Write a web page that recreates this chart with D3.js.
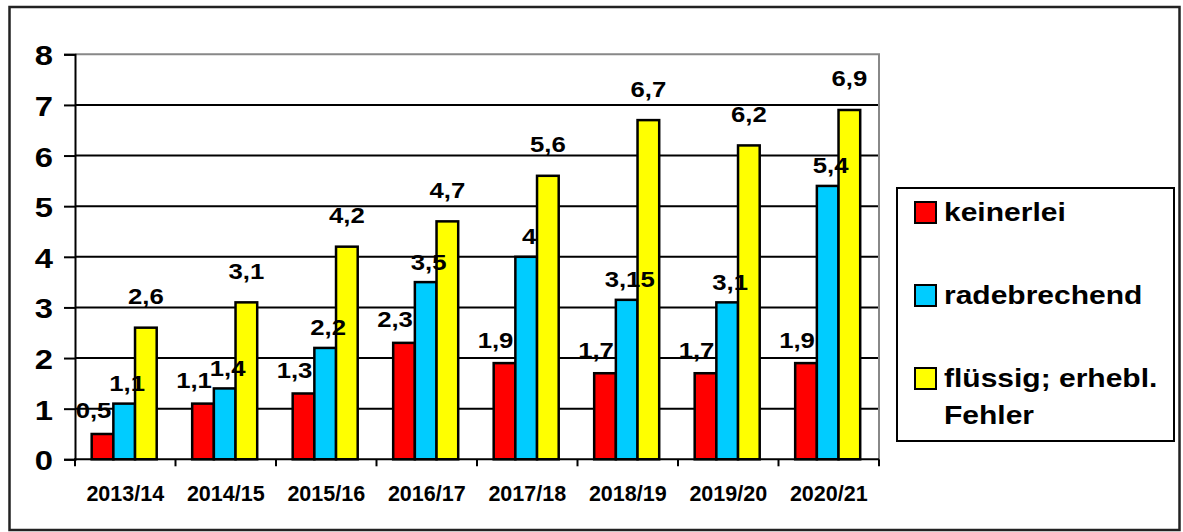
<!DOCTYPE html>
<html>
<head>
<meta charset="utf-8">
<script src="https://cdn.jsdelivr.net/npm/d3@7"></script>
<style>
  body { margin: 0; background: #fff; }
  svg { display: block; }
  text { font-family: "Liberation Sans", Arial, sans-serif; font-weight: bold; fill: #000; }
</style>
</head>
<body>
<div class="vis"></div>
<script>
(function () {
    // data
    var years = ["2013/14", "2014/15", "2015/16", "2016/17", "2017/18", "2018/19", "2019/20", "2020/21"];
    var keinerlei = [0.5, 1.1, 1.3, 2.3, 1.9, 1.7, 1.7, 1.9];
    var radebrechend = [1.1, 1.4, 2.2, 3.5, 4, 3.15, 3.1, 5.4];
    var fluessig = [2.6, 3.1, 4.2, 4.7, 5.6, 6.7, 6.2, 6.9];
    var seriesNames = ["keinerlei", "radebrechend", "flüssig; erhebl. Fehler"];
    var yTicks = [0, 1, 2, 3, 4, 5, 6, 7, 8];

    var colours = ["#ff0000", "#00ccff", "#ffff00"];
    var stretch = 1.17; // the picture's text is a bit wider than it is tall

    const svgWidth = 1183;
    const svgHeight = 532;

    const svg = d3.select('.vis')
        .append("svg")
            .attr('width', svgWidth)
            .attr('height', svgHeight);

    var plot = { left: 75, right: 879, top: 54.3, bottom: 459.3 };

    // outer frame
    svg.append('rect')
        .attr('x', 9.5).attr('y', 7)
        .attr('width', 1170).attr('height', 523)
        .attr('fill', 'none')
        .attr('stroke', '#222')
        .attr('stroke-width', 2.5);

    var data = years.map(function (y, i) {
        return { year: y, values: [keinerlei[i], radebrechend[i], fluessig[i]] };
    });

    var xScale = d3.scaleBand()
        .domain(years)
        .range([plot.left, plot.right])
        .padding(0);

    var bw = xScale.bandwidth();
    var xInner = d3.scaleBand()
        .domain([0, 1, 2])
        .range([bw * 0.166, bw * 0.813]);

    var yScale = d3.scaleLinear()
        .domain([0, 8])
        .range([plot.bottom, plot.top]);

    // grid lines
    svg.append('g')
        .selectAll('line')
        .data(yTicks.filter(function (t) { return t > 0 && t < 8; }))
        .enter().append('line')
            .attr('x1', plot.left).attr('x2', plot.right)
            .attr('y1', function (d) { return yScale(d); })
            .attr('y2', function (d) { return yScale(d); })
            .attr('stroke', '#000')
            .attr('stroke-width', 2);

    // grey top and right border of plot area
    svg.append('path')
        .attr('d', `M${plot.left},${yScale(8)}H${plot.right}V${plot.bottom}`)
        .attr('fill', 'none')
        .attr('stroke', '#888')
        .attr('stroke-width', 2);

    // bars
    var groups = svg.append('g')
        .selectAll('g')
        .data(data)
        .enter().append('g')
            .attr('transform', function (d) { return `translate(${xScale(d.year)},0)`; });

    groups.selectAll('rect')
        .data(function (d) { return d.values; })
        .enter().append('rect')
            .attr('x', function (d, i) { return xInner(i); })
            .attr('y', function (d) { return yScale(d); })
            .attr('width', xInner.bandwidth())
            .attr('height', function (d) { return yScale(0) - yScale(d); })
            .attr('fill', function (d, i) { return colours[i]; })
            .attr('stroke', '#000')
            .attr('stroke-width', 2.5);

    // value labels, nudged per series like in the picture
    var labelDx = [-9, 3, 0];
    var labelDy = [-15.5, -12.5, -23.5];
    groups.selectAll('text')
        .data(function (d) { return d.values; })
        .enter().append('text')
            .attr('text-anchor', 'middle')
            .attr('font-size', 22)
            .attr('transform', function (d, i) {
                var x = xInner(i) + xInner.bandwidth() / 2 + labelDx[i];
                var y = yScale(d) + labelDy[i];
                return `translate(${x},${y}) scale(${stretch},1)`;
            })
            .text(function (d) { return String(d).replace('.', ','); });

    // y axis
    var yAxis = d3.axisLeft(yScale)
        .tickValues(yTicks)
        .tickSize(11)
        .tickFormat(d3.format('d'));

    var callyAxis = svg.append('g')
        .attr('transform', `translate(${plot.left},0)`)
        .call(yAxis);
    callyAxis.select('.domain').attr('stroke', '#000').attr('stroke-width', 2);
    callyAxis.selectAll('.tick line').attr('stroke', '#000').attr('stroke-width', 2);
    callyAxis.selectAll('.tick text')
        .attr('x', null).attr('dy', null)
        .attr('font-size', 28)
        .attr('transform', `translate(-22,10.5) scale(${stretch},1)`);
    callyAxis.attr('font-family', null).attr('font-size', null);

    // x axis with ticks at category boundaries
    var bounds = d3.range(years.length + 1).map(function (i) { return plot.left + i * bw; });
    svg.append('line')
        .attr('x1', plot.left - 1).attr('x2', plot.right)
        .attr('y1', plot.bottom).attr('y2', plot.bottom)
        .attr('stroke', '#000').attr('stroke-width', 2);
    svg.append('g')
        .selectAll('line')
        .data(bounds)
        .enter().append('line')
            .attr('x1', function (d) { return d; })
            .attr('x2', function (d) { return d; })
            .attr('y1', plot.bottom)
            .attr('y2', plot.bottom + 7)
            .attr('stroke', '#000').attr('stroke-width', 2);
    svg.append('g')
        .selectAll('text')
        .data(years)
        .enter().append('text')
            .attr('x', function (d) { return xScale(d) + bw / 2; })
            .attr('y', 501)
            .attr('text-anchor', 'middle')
            .attr('font-size', 21.5)
            .text(function (d) { return d; });

    // legend
    var legend = svg.append('g');
    legend.append('rect')
        .attr('x', 897).attr('y', 188)
        .attr('width', 277).attr('height', 253)
        .attr('fill', '#fff')
        .attr('stroke', '#000')
        .attr('stroke-width', 2);

    var legendItems = legend.selectAll('g')
        .data(seriesNames)
        .enter().append('g')
            .attr('transform', function (d, i) { return `translate(915,${202 + i * 83})`; });

    legendItems.append('rect')
        .attr('width', 21).attr('height', 21)
        .attr('fill', function (d, i) { return colours[i]; })
        .attr('stroke', '#000')
        .attr('stroke-width', 2);

    legendItems.each(function (d) {
        var lines = d === "flüssig; erhebl. Fehler" ? ["flüssig; erhebl.", "Fehler"] : [d];
        var g = d3.select(this);
        lines.forEach(function (line, j) {
            g.append('text')
                .attr('font-size', 25)
                .attr('transform', `translate(29,${19 + j * 37}) scale(1.2,1)`)
                .text(line);
        });
    });
} ());
</script>
</body>
</html>
